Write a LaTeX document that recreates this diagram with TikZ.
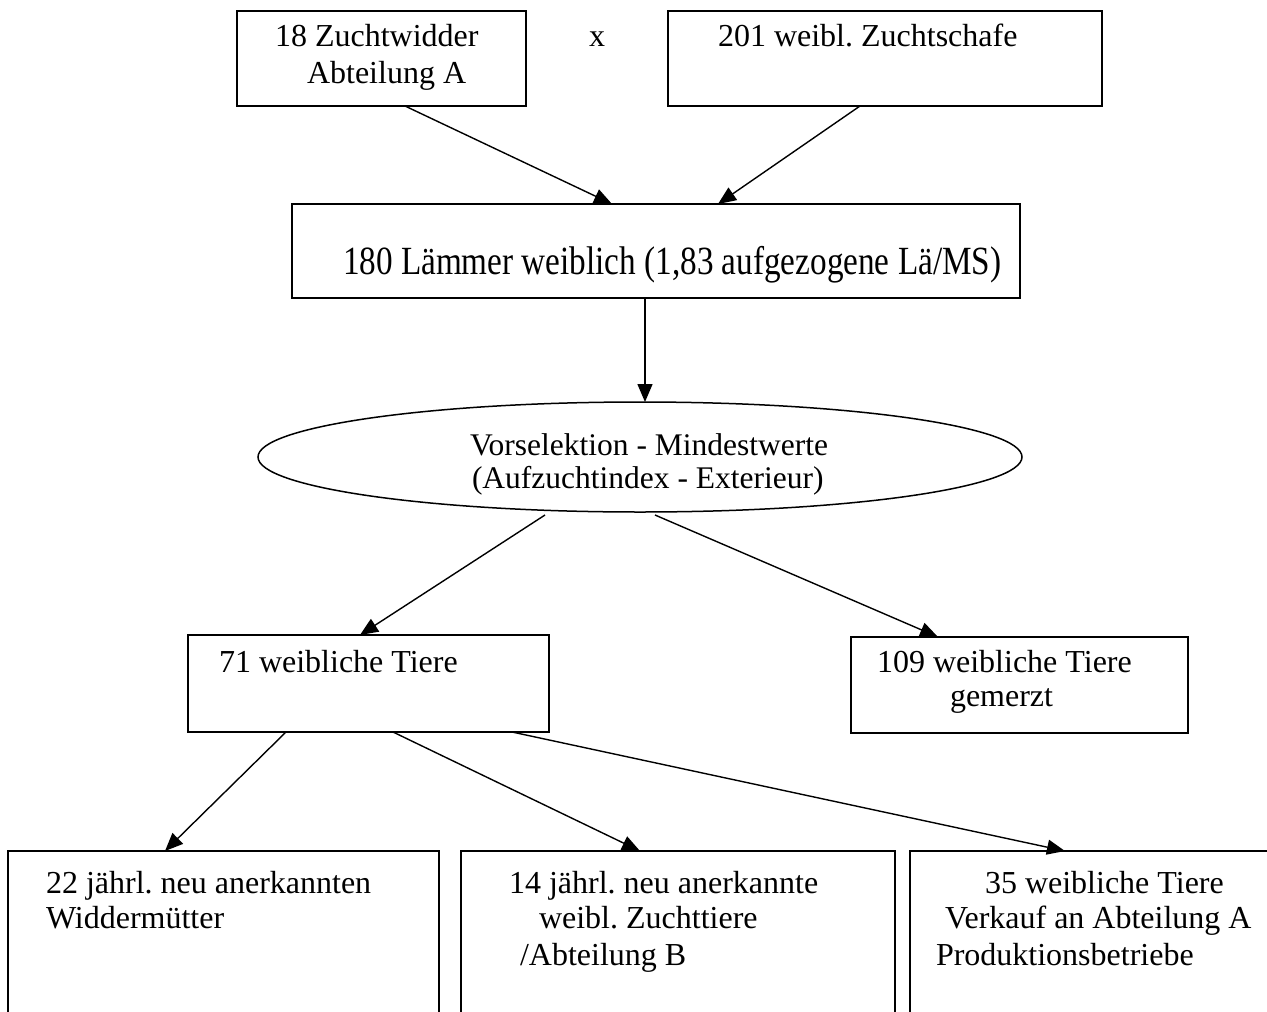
\documentclass[tikz,border=0pt]{standalone}
\usepackage{fontspec}
\setmainfont{Liberation Serif}
\usetikzlibrary{shapes.geometric,arrows.meta}
\frenchspacing
\tikzset{
  box/.style={draw, line width=1.5pt, rectangle, anchor=north west, inner sep=0pt, outer sep=0pt},
  txt/.style={anchor=base west, inner sep=0pt, outer sep=0pt, font=\fontsize{32}{36}\selectfont},
  arr/.style={line width=1.4pt, -{Triangle[length=18pt,width=15pt]}}
}
\begin{document}
\frenchspacing
\begin{tikzpicture}[x=1pt,y=-1pt]
\useasboundingbox (0,0) rectangle (1267,1012);
\clip (0,0) rectangle (1267,1012);
% boxes
\node[box, minimum width=289pt, minimum height=95pt] (A) at (237,11) {};
\node[box, minimum width=434pt, minimum height=95pt] (B) at (668,11) {};
\node[box, minimum width=728pt, minimum height=94pt] (L) at (292,204) {};
\node[draw, line width=1.5pt, ellipse, minimum width=764pt, minimum height=110pt, inner sep=0pt, outer sep=0pt] (E) at (640,457) {};
\node[box, minimum width=361pt, minimum height=97pt] (F) at (188,635) {};
\node[box, minimum width=337pt, minimum height=96pt] (G) at (851,637) {};
\node[box, minimum width=431pt, minimum height=220pt] (H) at (8,851) {};
\node[box, minimum width=434pt, minimum height=220pt] (I) at (461,851) {};
\node[box, minimum width=420pt, minimum height=220pt] (J) at (910,851) {};
% texts
\node[txt] (tA1) at (275,46) {18 Zuchtwidder};
\node[txt] (tA2) at (307,83) {Abteilung A};
\node[txt] (tx) at (589,46) {x};
\node[txt] (tB) at (718,46) {201 weibl. Zuchtschafe};
\node[txt] (tL) at (343,274) {\scalebox{0.83}[1]{\fontsize{40}{44}\selectfont 180 Lämmer weiblich (1,83 aufgezogene Lä/MS)}};
\node[txt, font=\fontsize{31.5}{36}\selectfont] (tE1) at (470,455) {Vorselektion - Mindestwerte};
\node[txt, font=\fontsize{31.5}{36}\selectfont] (tE2) at (472,488) {(Aufzuchtindex - Exterieur)};
\node[txt] (tF) at (219,672) {71 weibliche Tiere};
\node[txt] (tG1) at (877,672) {109 weibliche Tiere};
\node[txt] (tG2) at (950,706) {gemerzt};
\node[txt] (tH1) at (46,893) {22 jährl. neu anerkannten};
\node[txt] (tH2) at (46,928) {Widdermütter};
\node[txt] (tI1) at (509,893) {14 jährl. neu anerkannte};
\node[txt] (tI2) at (539,928) {weibl. Zuchttiere};
\node[txt] (tI3) at (520,965) {/Abteilung B};
\node[txt] (tJ1) at (985,893) {35 weibliche Tiere};
\node[txt] (tJ2) at (945,928) {Verkauf an Abteilung A};
\node[txt] (tJ3) at (936,965) {Produktionsbetriebe};
% connectors
\draw[arr] ([xshift=168pt]A.south west) -- ([xshift=320pt]L.north west);
\draw[arr] ([xshift=192pt]B.south west) -- ([xshift=426pt]L.north west);
\draw[arr] ([xshift=-11pt]L.south) -- ([xshift=5pt]E.north);
\draw[arr] ([xshift=-95pt,yshift=-3pt]E.south) -- ([xshift=172pt]F.north west);
\draw[arr] ([xshift=15pt,yshift=-3pt]E.south) -- ([xshift=87pt]G.north west);
\draw[arr] ([xshift=98pt]F.south west) -- ([xshift=157pt]H.north west);
\draw[arr] ([xshift=205pt]F.south west) -- ([xshift=179pt]I.north west);
\draw[arr] ([xshift=324pt]F.south west) -- ([xshift=155pt]J.north west);
\end{tikzpicture}
\end{document}
